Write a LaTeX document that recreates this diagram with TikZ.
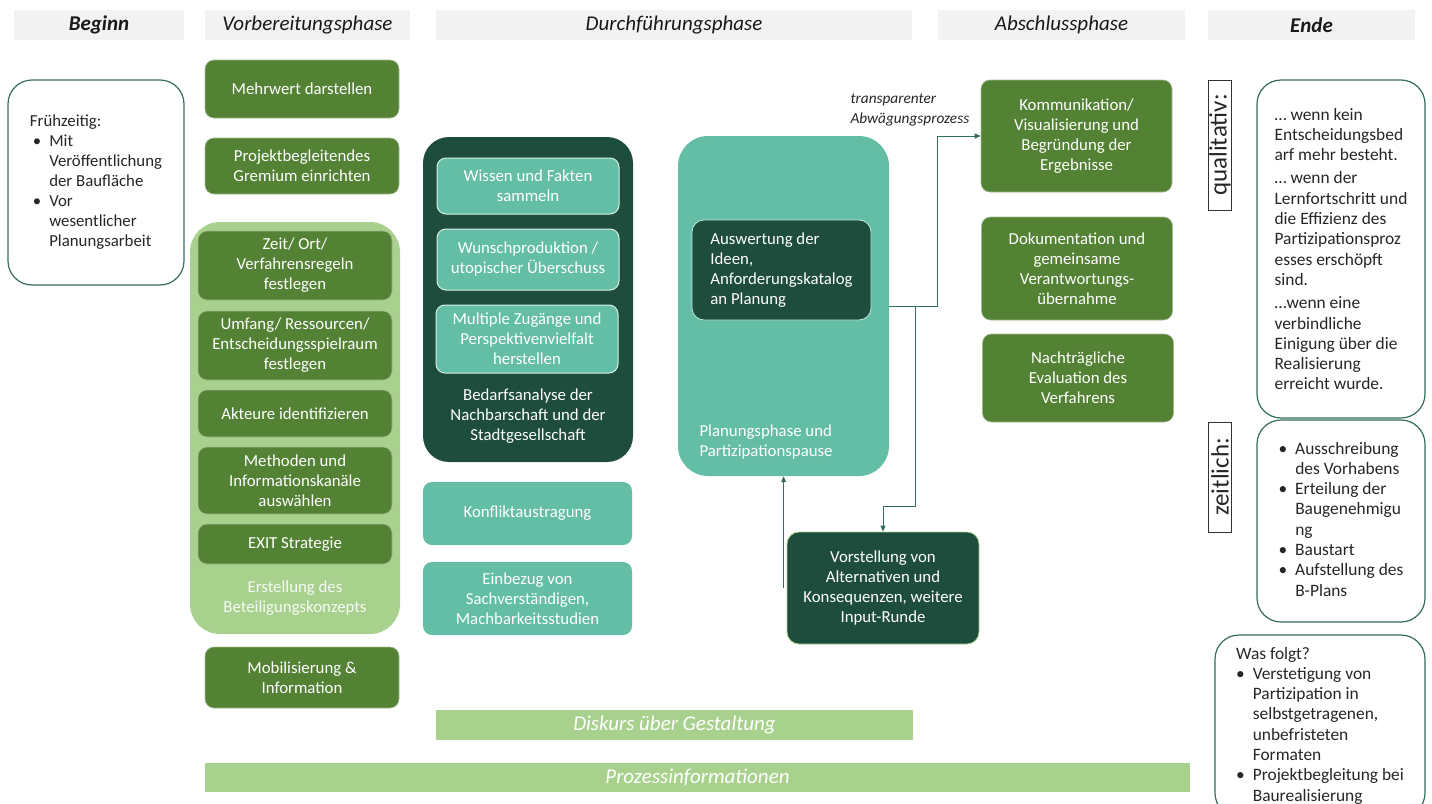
\documentclass[tikz,border=0pt]{standalone}
\usepackage{fontspec}
\setmainfont{Carlito}
\usetikzlibrary{positioning, arrows.meta, calc}
\usepackage{xcolor}
\definecolor{ptGray}{RGB}{242, 242, 242}
\definecolor{ptGreen}{RGB}{84, 130, 53}
\definecolor{ptLight}{RGB}{169, 209, 142}
\definecolor{ptTeal}{RGB}{99, 190, 165}
\definecolor{ptDark}{RGB}{30, 77, 62}
\definecolor{ptLine}{RGB}{52, 110, 90}
\newcommand{\boxfont}{\fontsize{16.8}{20}\selectfont}
\newcommand{\notefont}{\fontsize{17.4}{20.3}\selectfont}
\newcommand{\headfont}{\fontsize{21}{24}\selectfont}

\begin{document}
\begin{tikzpicture}[x=1pt, y=-1pt,
          hdr/.style={fill=ptGray, minimum height=30pt, text=black!90,
                      font=\headfont\itshape},
          gbox/.style={fill=ptGreen, draw=ptGreen!55!white, line width=0.6pt,
                       rounded corners=9pt, text=white, align=center, font=\boxfont},
          tbox/.style={fill=ptTeal, rounded corners=9pt, text=white,
                       align=center, font=\boxfont},
          dbox/.style={fill=ptDark, rounded corners=12pt, text=white,
                       align=center, font=\boxfont},
          wbox/.style={draw=ptLine, line width=1.2pt, fill=white, rounded corners=24pt,
                       align=left, text=black!85, font=\notefont},
          tag/.style={draw=black!80, line width=0.8pt, rotate=90, minimum height=23pt,
                      inner sep=0pt, text=black!85, font=\fontsize{25}{26}\selectfont},
          bar/.style={fill=ptLight, minimum height=30pt, text=white,
                      font=\headfont\itshape},
          lbl/.style={text=white, align=center, font=\boxfont},
          arr/.style={-{Triangle[length=6pt, width=5pt]}, line width=1pt, color=ptLine}]
        \useasboundingbox (0,0) rectangle (1432,803);
        % phase headers
        \node[hdr, minimum width=170pt, font=\headfont\bfseries\itshape] (hbeg) at (99,25) {Beginn};
        \node[hdr, minimum width=205pt] (hvor) at (307.5,25) {Vorbereitungsphase};
        \node[hdr, minimum width=476pt] (hdur) at (674,25) {Durchführungsphase};
        \node[hdr, minimum width=247pt] (habs) at (1061.5,25) {Abschlussphase};
        \node[hdr, minimum width=207pt, font=\headfont\bfseries\itshape] (hend) at (1311.5,25) {Ende};
        % Beginn
        \node[wbox, font=\boxfont, minimum width=176pt, minimum height=205pt] (beg) at (96,182.5)
          {\begin{tabular}{@{}l@{\hspace{8pt}}l@{}}
           \multicolumn{2}{@{}l@{}}{Frühzeitig:}\\
           \hspace{3pt}\textbullet & Mit\\ & Veröffentlichung\\ & der Baufläche\\
           \hspace{3pt}\textbullet & Vor\\ & wesentlicher\\ & Planungsarbeit
           \end{tabular}};
        % Vorbereitungsphase
        \node[gbox, minimum width=194pt, minimum height=58pt] (mehr) at (302,89) {Mehrwert darstellen};
        \node[gbox, minimum width=194pt, minimum height=56pt] (grem) at (302,166) {Projektbegleitendes\\Gremium einrichten};
        \node[fill=ptLight, rounded corners=30pt, minimum width=210pt, minimum height=412pt] (konz) at (295,428) {};
        \node[gbox, minimum width=194pt, minimum height=69pt] (zeit) at (295,265.5) {Zeit/ Ort/\\Verfahrensregeln\\festlegen};
        \node[gbox, minimum width=194pt, minimum height=69pt] (umf) at (295,345.5) {Umfang/ Ressourcen/\\Entscheidungsspielraum\\festlegen};
        \node[gbox, minimum width=194pt, minimum height=47pt] (akt) at (295,413.5) {Akteure identifizieren};
        \node[gbox, minimum width=194pt, minimum height=67pt] (meth) at (295,480.5) {Methoden und\\Informationskanäle\\auswählen};
        \node[gbox, minimum width=194pt, minimum height=40pt] (exit) at (295,544) {EXIT Strategie};
        \node[lbl, text=white!90!ptLight] (konzlbl) at (295,598) {Erstellung des\\Beteiligungskonzepts};
        \node[gbox, minimum width=194pt, minimum height=61pt] (mob) at (302,677.5) {Mobilisierung \&\\Information};
        % Durchfuehrungsphase
        \node[dbox, rounded corners=26pt, minimum width=210pt, minimum height=325pt] (bed) at (528,299.5) {};
        \node[tbox, draw=white!75!ptTeal, line width=1pt, minimum width=182pt, minimum height=56pt] (wiss) at (528,186) {Wissen und Fakten\\sammeln};
        \node[tbox, draw=white!75!ptTeal, line width=1pt, minimum width=182pt, minimum height=61pt] (wun) at (528,259.5) {Wunschproduktion /\\utopischer Überschuss};
        \node[tbox, draw=white!75!ptTeal, line width=1pt, minimum width=182pt, minimum height=68pt] (mult) at (527,339) {Multiple Zugänge und\\Perspektivenvielfalt\\herstellen};
        \node[lbl] (bedlbl) at (528,416) {Bedarfsanalyse der\\Nachbarschaft und der\\Stadtgesellschaft};
        \node[tbox, minimum width=209pt, minimum height=63pt] (konf) at (527.5,513.5) {Konfliktaustragung};
        \node[tbox, minimum width=209pt, minimum height=73pt] (einb) at (527.5,598.5) {Einbezug von\\Sachverständigen,\\Machbarkeitsstudien};
        \node[tbox, rounded corners=30pt, minimum width=211pt, minimum height=340pt] (plan) at (783.5,306) {};
        \node[dbox, draw=white!60!ptTeal, line width=0.8pt, align=left, minimum width=179pt, minimum height=100pt] (ausw) at (781.5,270) {Auswertung der\\Ideen,\\Anforderungskatalog\\an Planung};
        \node[lbl, align=left, anchor=west] (planlbl) at (696,442) {Planungsphase und\\Partizipationspause};
        \node[dbox, draw=ptLight, line width=0.8pt, minimum width=192pt, minimum height=112pt] (vorst) at (883,588) {Vorstellung von\\Alternativen und\\Konsequenzen, weitere\\Input-Runde};
        % Abschlussphase
        \node[gbox, minimum width=191pt, minimum height=112pt] (komm) at (1076.5,136) {Kommunikation/\\Visualisierung und\\Begründung der\\Ergebnisse};
        \node[gbox, minimum width=191pt, minimum height=103pt] (dok) at (1077,268.5) {Dokumentation und\\gemeinsame\\Verantwortungs-\\übernahme};
        \node[gbox, minimum width=191pt, minimum height=88pt] (nach) at (1078,378) {Nachträgliche\\Evaluation des\\Verfahrens};
        \node[align=left, anchor=west, text=black!85, font=\fontsize{15.3}{20}\selectfont\itshape] (tlab) at (847,110) {transparenter\\Abwägungsprozess};
        % connectors
        \draw[arr] (plan.east) -- ++(48,0) |- (komm.west);
        \draw[arr] ($(plan.east)+(26,0)$) -- ++(0,200) -| (vorst.north);
        \draw[arr] ([xshift=-3pt]vorst.west) -- ([xshift=-3pt]vorst.west |- plan.south);
        % Ende
        \node[tag, minimum width=130pt] (qual) at (1220,145) {qualitativ:};
        \node[wbox, minimum width=168pt, minimum height=338pt] (qbox) at (1341,249)
          {… wenn kein\\Entscheidungsbed\\arf mehr besteht.\\[3pt]
           … wenn der\\Lernfortschritt und\\die Effizienz des\\Partizipationsproz\\esses erschöpft\\sind.\\[3pt]
           …wenn eine\\verbindliche\\Einigung über die\\Realisierung\\erreicht wurde.};
        \node[tag, minimum width=110pt] (zeitl) at (1220,477) {zeitlich:};
        \node[wbox, minimum width=168pt, minimum height=202pt] (zbox) at (1341,521)
          {\begin{tabular}{@{}l@{\hspace{8pt}}l@{}}
           \textbullet & Ausschreibung\\ & des Vorhabens\\
           \textbullet & Erteilung der\\ & Baugenehmigu\\ & ng\\
           \textbullet & Baustart\\
           \textbullet & Aufstellung des\\ & B-Plans
           \end{tabular}};
        \node[wbox, minimum width=210pt, minimum height=182pt] (folgt) at (1320,726)
          {\begin{tabular}{@{}l@{\hspace{8pt}}l@{}}
           \multicolumn{2}{@{}l@{}}{Was folgt?}\\
           \textbullet & Verstetigung von\\ & Partizipation in\\ & selbstgetragenen,\\ & unbefristeten\\ & Formaten\\
           \textbullet & Projektbegleitung bei\\ & Baurealisierung
           \end{tabular}};
        % bottom bars
        \node[bar, minimum width=477pt] (disk) at (674.5,725) {Diskurs über Gestaltung};
        \node[bar, minimum width=985pt, minimum height=29pt] (proz) at (697.5,777.5) {Prozessinformationen};
      \end{tikzpicture}
\end{document}
